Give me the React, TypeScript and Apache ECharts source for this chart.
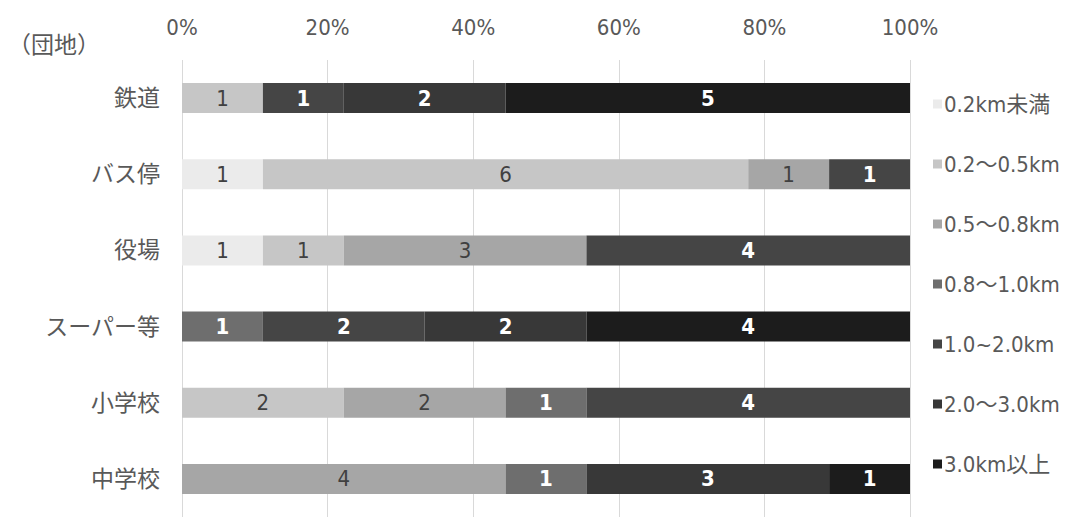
import React, { useEffect, useRef } from "react";
import * as echarts from "echarts";

const categories = ["鉄道", "バス停", "役場", "スーパー等", "小学校", "中学校"];
const seriesNames = ["0.2km未満", "0.2～0.5km", "0.5～0.8km", "0.8～1.0km", "1.0~2.0km", "2.0～3.0km", "3.0km以上"];
const lt02 = [0, 1, 1, 0, 0, 0];
const r02_05 = [1, 6, 1, 0, 2, 0];
const r05_08 = [0, 1, 3, 0, 2, 4];
const r08_10 = [0, 0, 0, 1, 1, 1];
const r10_20 = [1, 1, 4, 2, 4, 0];
const r20_30 = [2, 0, 0, 2, 0, 3];
const ge30 = [5, 0, 0, 4, 0, 1];
const xTicks = [0, 20, 40, 60, 80, 100];

const counts = [lt02, r02_05, r05_08, r08_10, r10_20, r20_30, ge30];
const colors = ["#ebebeb", "#c6c6c6", "#a6a6a6", "#6e6e6e", "#454545", "#383838", "#1c1c1c"];
const labelColors = ["#404040", "#404040", "#404040", "#ffffff", "#ffffff", "#ffffff", "#ffffff"];

const FONT = "'DejaVu Sans Condensed', 'Noto Sans CJK JP', sans-serif";

export default function App() {
  const ref = useRef<HTMLDivElement>(null);
  useEffect(() => {
    if (!ref.current) return;
    const chart = echarts.init(ref.current, null, { renderer: "svg" });
    const totals = categories.map((_, i) => counts.reduce((s, arr) => s + arr[i], 0));
    const series = counts.map((arr, si) => ({
      name: seriesNames[si],
      type: "bar",
      stack: "total",
      barWidth: 30,
      itemStyle: { color: colors[si] },
      label: {
        show: true,
        position: "inside",
        color: labelColors[si],
        fontSize: 22,
        fontWeight: si >= 3 ? "bold" : "normal",
        fontFamily: FONT,
        formatter: (p: any) => (arr[p.dataIndex] ? String(arr[p.dataIndex]) : ""),
      },
      data: arr.map((v, i) => (v ? (v / totals[i]) * 100 : null)),
    }));
    chart.setOption({
      animation: false,
      backgroundColor: "#ffffff",
      graphic: [
        {
          type: "text",
          left: 8,
          top: 33,
          style: { text: "（団地）", fontSize: 23, fill: "#595959", fontFamily: FONT },
        },
      ],
      legend: {
        orient: "vertical",
        left: 928,
        top: 88,
        itemGap: 38,
        itemWidth: 9,
        itemHeight: 9,
        icon: "rect",
        data: seriesNames,
        textStyle: { color: "#595959", fontSize: 22, fontFamily: FONT, padding: [0, 0, 0, -3] },
      },
      grid: { left: 182, right: 173, top: 60, bottom: -4 },
      xAxis: {
        type: "value",
        position: "top",
        min: 0,
        max: 100,
        interval: 20,
        axisLine: { show: false },
        axisTick: { show: false },
        splitLine: { lineStyle: { color: "#d9d9d9", width: 1 } },
        axisLabel: {
          margin: 22,
          color: "#595959",
          fontSize: 22,
          fontFamily: FONT,
          formatter: (v: number) => (xTicks.includes(v) ? v + "%" : ""),
        },
      },
      yAxis: {
        type: "category",
        inverse: true,
        data: categories,
        axisLine: { show: false },
        axisTick: { show: false },
        axisLabel: { margin: 22, color: "#595959", fontSize: 23, fontFamily: FONT },
      },
      series,
    });
    return () => chart.dispose();
  }, []);
  return <div ref={ref} style={{ position: "fixed", left: 0, top: 0, width: 1083, height: 517 }} />;
}
